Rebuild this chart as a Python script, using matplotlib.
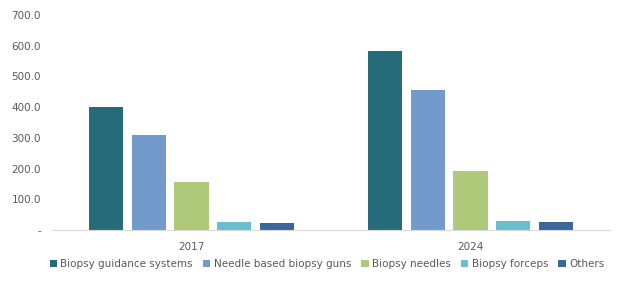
import numpy as np
import matplotlib.pyplot as plt

# Data
years = ["2017", "2024"]
segments = ["Biopsy guidance systems", "Needle based biopsy guns", "Biopsy needles",
            "Biopsy forceps", "Others"]
guidance = [400, 582]
needle_guns = [308, 456]
needles = [156, 192]
forceps = [26, 29]
others = [23, 26]
colors = ["#266b7a", "#729acb", "#afc97a", "#6bbdd0", "#3a6699"]

series = [guidance, needle_guns, needles, forceps, others]

fig = plt.figure(figsize=(6.24, 2.88), dpi=100)
ax = fig.add_axes([52 / 624, 58 / 288, 558 / 624, 215 / 288])

x = np.arange(len(years))
step = 0.154
width = 0.122
for i, (vals, name, col) in enumerate(zip(series, segments, colors)):
    ax.bar(x + (i - 2) * step, vals, width, color=col, label=name)

ax.set_xlim(-0.5, 1.5)
ax.set_ylim(0, 700)
ax.set_xticks(x)
ax.set_xticklabels(years)
ticks = np.arange(0, 701, 100)
ax.set_yticks(ticks)
ax.set_yticklabels(["-"] + [f"{t:.1f}" for t in ticks[1:]])

for s in ["top", "right", "left"]:
    ax.spines[s].set_visible(False)
ax.spines["bottom"].set_color("#d9d9d9")
ax.tick_params(axis="both", length=0, labelsize=7.5, colors="#595959")
ax.tick_params(axis="y", pad=8)
ax.tick_params(axis="x", pad=9)

fig.legend(loc="center", bbox_to_anchor=(327 / 624, 1 - 264 / 288), ncol=5, frameon=False,
           fontsize=7.5, labelcolor="#595959", handlelength=0.7, handleheight=0.7,
           handletextpad=0.3, columnspacing=1.0, borderaxespad=0)

fig.savefig("out.png", dpi=100)
